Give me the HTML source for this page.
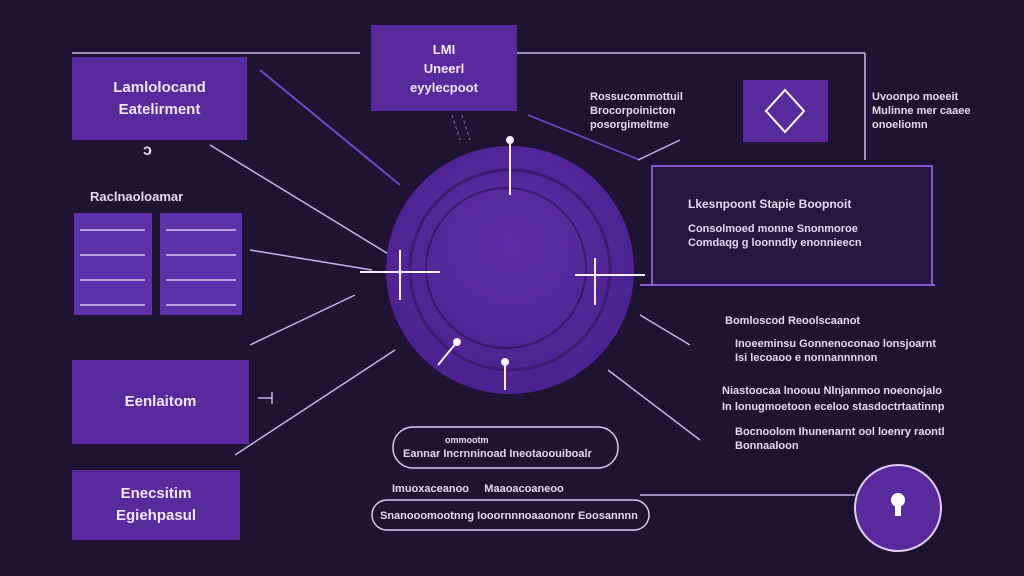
<!DOCTYPE html>
<html><head><style>
body{margin:0;width:1024px;height:576px;background:#1f1232;overflow:hidden;font-family:"Liberation Sans",sans-serif;color:#e8dcf5;position:relative}
.a{position:absolute}
.box{position:absolute;background:#5a2a9c;color:#f0e8ff;display:flex;align-items:center;justify-content:center;text-align:center;font-size:15px;line-height:22px;font-weight:bold}
.t{position:absolute;font-size:11px;line-height:14px;color:#e4d8f2;white-space:nowrap;font-weight:bold}
</style></head><body>
<svg class="a" width="1024" height="576" style="left:0;top:0">
<defs><radialGradient id="g" cx="50%" cy="40%" r="55%"><stop offset="0" stop-color="#5e2ca4"/><stop offset="1" stop-color="#4e2290"/></radialGradient></defs>
<g stroke="#c9b3ea" stroke-width="1.5" fill="none">
<line x1="72" y1="53" x2="360" y2="53"/><line x1="517" y1="53" x2="865" y2="53"/>
<line x1="865" y1="53" x2="865" y2="160"/>
<line x1="260" y1="70" x2="400" y2="185" stroke="#7a48d0" stroke-width="2"/>
<line x1="210" y1="145" x2="390" y2="255"/>
<line x1="250" y1="250" x2="372" y2="270"/>
<line x1="250" y1="345" x2="355" y2="295"/>
<line x1="235" y1="455" x2="395" y2="350"/>
<line x1="640" y1="315" x2="690" y2="345"/>
<line x1="608" y1="370" x2="700" y2="440"/>
<line x1="640" y1="495" x2="855" y2="495"/>
<line x1="528" y1="115" x2="640" y2="160" stroke="#7a48d0"/>
<line x1="638" y1="160" x2="680" y2="140"/>
<line x1="258" y1="398" x2="272" y2="398"/><line x1="272" y1="392" x2="272" y2="404"/>
</g>
<circle cx="510" cy="270" r="124" fill="url(#g)"/>
<circle cx="510" cy="270" r="100" fill="none" stroke="#3e1a70" stroke-width="3"/>
<circle cx="506" cy="268" r="80" fill="none" stroke="#3a1868" stroke-width="2"/>
<g stroke="#f4eeff" stroke-width="2" fill="#fff">
<line x1="360" y1="272" x2="440" y2="272"/><line x1="400" y1="250" x2="400" y2="300"/>
<line x1="575" y1="275" x2="645" y2="275"/><line x1="595" y1="258" x2="595" y2="305"/>
<line x1="510" y1="140" x2="510" y2="195"/><circle cx="510" cy="140" r="3"/>
<line x1="505" y1="360" x2="505" y2="390"/><circle cx="505" cy="362" r="3"/>
<line x1="438" y1="365" x2="457" y2="342"/><circle cx="457" cy="342" r="3"/>
</g>
<g stroke="#8a6ac0" stroke-dasharray="3,3"><line x1="452" y1="115" x2="460" y2="140"/><line x1="462" y1="115" x2="470" y2="140"/></g>
<rect x="652" y="166" width="280" height="119" fill="#291640" stroke="#8a55d0" stroke-width="2"/>
<line x1="640" y1="285" x2="935" y2="285" stroke="#8a55d0" stroke-width="2"/>
<rect x="743" y="80" width="85" height="62" fill="#5a2a9c"/>
<polygon points="785,90 804,111 785,132 766,111" fill="none" stroke="#fff" stroke-width="2"/>
<rect x="393" y="427" width="225" height="41" rx="20" fill="none" stroke="#d8c8f0" stroke-width="1.5"/>
<rect x="372" y="500" width="277" height="30" rx="15" fill="none" stroke="#d8c8f0" stroke-width="1.5"/>
<circle cx="898" cy="508" r="43" fill="#5a2a9c" stroke="#e0cff6" stroke-width="2"/>
<circle cx="898" cy="500" r="7" fill="#fff"/><rect x="895" y="500" width="6" height="16" fill="#fff"/>
<g fill="#6030a8">
<rect x="74" y="213" width="78" height="102"/><rect x="160" y="213" width="82" height="102"/>
</g>
<g stroke="#d8c8f0" stroke-width="1.5">
<line x1="80" y1="230" x2="145" y2="230"/><line x1="80" y1="255" x2="145" y2="255"/><line x1="80" y1="280" x2="145" y2="280"/><line x1="80" y1="305" x2="145" y2="305"/>
<line x1="166" y1="230" x2="236" y2="230"/><line x1="166" y1="255" x2="236" y2="255"/><line x1="166" y1="280" x2="236" y2="280"/><line x1="166" y1="305" x2="236" y2="305"/>
</g>
</svg>
<div class="box" style="left:72px;top:57px;width:175px;height:83px">Lamlolocand<br>Eatelirment</div>
<div class="box" style="left:371px;top:25px;width:146px;height:86px;font-size:13px;line-height:19px">LMI<br>Uneerl<br>eyylecpoot</div>
<div class="box" style="left:72px;top:360px;width:177px;height:84px">Eenlaitom</div>
<div class="box" style="left:72px;top:470px;width:168px;height:70px">Enecsitim<br>Egiehpasul</div>
<div class="t" style="left:90px;top:190px;font-size:13px">Raclnaoloamar</div>
<div class="t" style="left:143px;top:144px;font-size:16px">ɔ</div>
<div class="t" style="left:590px;top:90px">Rossucommottuil<br>Brocorpoinicton<br>posorgimeltme</div>
<div class="t" style="left:872px;top:90px">Uvoonpo moeeit<br>Mulinne mer caaee<br>onoeliomn</div>
<div class="t" style="left:688px;top:197px;font-size:12px">Lkesnpoont Stapie Boopnoit</div>
<div class="t" style="left:688px;top:222px">Consolmoed monne Snonmoroe<br>Comdaqg g loonndly enonnieecn</div>
<div class="t" style="left:725px;top:314px">Bomloscod Reoolscaanot</div>
<div class="t" style="left:735px;top:337px">Inoeeminsu Gonnenoconao lonsjoarnt<br>Isi lecoaoo e nonnannnnon</div>
<div class="t" style="left:722px;top:384px">Niastoocaa lnoouu Nlnjanmoo noeonojalo</div>
<div class="t" style="left:722px;top:400px">In lonugmoetoon eceloo stasdoctrtaatinnp</div>
<div class="t" style="left:735px;top:425px">Bocnoolom Ihunenarnt ool loenry raontl<br>Bonnaaloon</div>
<div class="t" style="left:445px;top:433px;font-size:9px">ommootm</div>
<div class="t" style="left:403px;top:447px">Eannar Incrnninoad Ineotaoouiboalr</div>
<div class="t" style="left:392px;top:482px">Imuoxaceanoo &nbsp;&nbsp;&nbsp;&nbsp;Maaoacoaneoo</div>
<div class="t" style="left:380px;top:509px">Snanooomootnng Iooornnnoaaononr Eoosannnn</div>
</body></html>
